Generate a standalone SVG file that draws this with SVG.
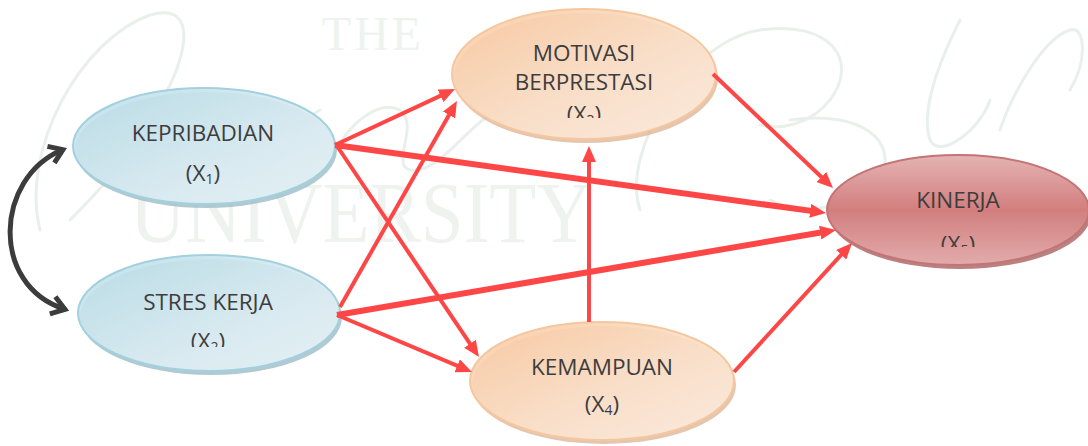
<svg xmlns="http://www.w3.org/2000/svg" width="1088" height="446" viewBox="0 0 1088 446">
  <style>
    .lbl { font-family: "Open Sans", "Liberation Sans", sans-serif; font-size: 22.5px; fill: #3d3d3d; text-anchor: middle; }
    .sub { font-size: 14px; }
    .wm { font-family: "Liberation Serif", serif; fill: #eef3ef; }
    .script { fill: none; stroke: #e9f0eb; stroke-width: 3; stroke-linecap: round; }
    .edge { fill: none; stroke: #fd4747; stroke-width: 4; marker-end: url(#arrow); }
    .edge.bold { stroke-width: 6; }
    .corr { fill: none; stroke: #3c3c3c; stroke-width: 5; stroke-linecap: round; marker-start: url(#chev); marker-end: url(#chev); }
  </style>
  <defs>
    <marker id="arrow" viewBox="0 0 16 14" markerWidth="16" markerHeight="14" refX="8" refY="7" orient="auto" markerUnits="userSpaceOnUse">
      <path d="M0,0 L16,7 L0,14 z" fill="#fd4747"/>
    </marker>
    <marker id="chev" viewBox="0 0 20 24" markerWidth="20" markerHeight="24" refX="14" refY="12" orient="auto-start-reverse" markerUnits="userSpaceOnUse">
      <path d="M2,3 L15,12 L2,21" fill="none" stroke="#3c3c3c" stroke-width="5" stroke-linejoin="miter"/>
    </marker>
    <linearGradient id="gBlue" x1="0" y1="0" x2="1" y2="1">
      <stop offset="0" stop-color="#b9dde8"/>
      <stop offset="0.6" stop-color="#dcedf3"/>
      <stop offset="1" stop-color="#eaf5f8"/>
    </linearGradient>
    <linearGradient id="gOrange" x1="0" y1="0" x2="1" y2="1">
      <stop offset="0" stop-color="#f9c9a0"/>
      <stop offset="0.55" stop-color="#fbe1cb"/>
      <stop offset="1" stop-color="#fdeee3"/>
    </linearGradient>
    <linearGradient id="gRed" x1="0" y1="0" x2="0" y2="1">
      <stop offset="0" stop-color="#e5b3b3"/>
      <stop offset="0.5" stop-color="#d27e7e"/>
      <stop offset="1" stop-color="#e2abab"/>
    </linearGradient>
    <clipPath id="clipX3"><rect x="450" y="0" width="270" height="118"/></clipPath>
    <clipPath id="clipX2"><rect x="70" y="250" width="280" height="97"/></clipPath>
    <clipPath id="clipX5"><rect x="820" y="150" width="268" height="97"/></clipPath>
  </defs>

  <rect width="1088" height="446" fill="#ffffff"/>

  <!-- faint background emblem -->
  <g id="watermark">
    <path class="script" d="M40,230 C20,150 80,40 150,15 C200,0 190,60 150,120 C120,170 90,200 70,220"/>
    <path class="script" d="M150,150 C190,110 230,80 250,100 C265,120 230,170 250,175 C275,180 300,120 320,110"/>
    <path class="script" d="M330,160 C350,120 380,100 400,110 C420,125 390,165 410,170 C440,175 470,120 500,110"/>
    <path class="script" d="M640,210 C620,150 690,40 760,30 C830,20 860,60 830,100 C810,125 780,130 760,125"/>
    <path class="script" d="M790,120 C860,110 900,140 880,180 C860,210 800,215 770,200"/>
    <path class="script" d="M960,20 C940,60 920,110 930,140 C940,160 980,130 990,100"/>
    <path class="script" d="M1000,130 C1010,100 1040,40 1070,30 C1085,25 1088,60 1070,90"/>
    <text class="wm" x="373" y="50" font-size="48" letter-spacing="3" text-anchor="middle">THE</text>
    <text class="wm" x="130" y="242" font-size="86" textLength="462" lengthAdjust="spacingAndGlyphs">UNIVERSITY</text>
  </g>

  <!-- variables -->
  <g id="node-x1">
    <ellipse cx="206" cy="150" rx="131" ry="58" fill="#9dbcc6" opacity="0.8"/>
    <ellipse cx="204" cy="146" rx="131" ry="58" fill="url(#gBlue)" fill-opacity="0.9" stroke="#a3d0de" stroke-width="2"/>
    <text class="lbl" x="203" y="141">KEPRIBADIAN</text>
    <text class="lbl" x="203" y="181">(X<tspan class="sub" dy="3">1</tspan><tspan dy="-3">)</tspan></text>
  </g>

  <g id="node-x2">
    <ellipse cx="211" cy="317" rx="131" ry="58" fill="#9dbcc6" opacity="0.8"/>
    <ellipse cx="209" cy="313" rx="131" ry="58" fill="url(#gBlue)" fill-opacity="0.9" stroke="#a3d0de" stroke-width="2"/>
    <text class="lbl" x="208" y="310">STRES KERJA</text>
    <text class="lbl" x="208" y="349" clip-path="url(#clipX2)">(X<tspan class="sub" dy="3">2</tspan><tspan dy="-3">)</tspan></text>
  </g>

  <g id="node-x3">
    <ellipse cx="586" cy="78" rx="132" ry="65" fill="#d9ad8a" opacity="0.7"/>
    <ellipse cx="584" cy="74" rx="132" ry="65" fill="url(#gOrange)" fill-opacity="0.9" stroke="#f5c79f" stroke-width="2"/>
    <text class="lbl" x="584" y="61">MOTIVASI</text>
    <text class="lbl" x="584" y="90">BERPRESTASI</text>
    <text class="lbl" x="584" y="122" clip-path="url(#clipX3)">(X<tspan class="sub" dy="3">3</tspan><tspan dy="-3">)</tspan></text>
  </g>

  <g id="node-x4">
    <ellipse cx="604" cy="385" rx="132" ry="59" fill="#d9ad8a" opacity="0.7"/>
    <ellipse cx="602" cy="381" rx="132" ry="59" fill="url(#gOrange)" fill-opacity="0.9" stroke="#f5c79f" stroke-width="2"/>
    <text class="lbl" x="602" y="375">KEMAMPUAN</text>
    <text class="lbl" x="602" y="412">(X<tspan class="sub" dy="3">4</tspan><tspan dy="-3">)</tspan></text>
  </g>

  <g id="node-y">
    <ellipse cx="960" cy="214" rx="131" ry="55" fill="#a86262" opacity="0.8"/>
    <ellipse cx="958" cy="210" rx="131" ry="55" fill="url(#gRed)" stroke="#c47474" stroke-width="2"/>
    <text class="lbl" x="958" y="208">KINERJA</text>
    <text class="lbl" x="958" y="252" clip-path="url(#clipX5)">(X<tspan class="sub" dy="3">5</tspan><tspan dy="-3">)</tspan></text>
  </g>

  <!-- paths between variables -->
  <g id="connectors">
    <path class="corr" d="M62,150 C-5,178 -10,285 64,309"/>
    <path class="edge" d="M335,145 L447.8,92.4"/>
    <path class="edge bold" d="M335,145 L818.1,211.9"/>
    <path class="edge" d="M337,146 L474.5,350.4"/>
    <path class="edge" d="M340,307 L453,108"/>
    <path class="edge bold" d="M337,315 L828.1,231.3"/>
    <path class="edge" d="M337,315 L464.6,368.9"/>
    <path class="edge" d="M589,322 L589,154"/>
    <path class="edge" d="M713,74 L827.2,182.5"/>
    <path class="edge" d="M734,372 L846.6,248.9"/>
  </g>
</svg>
